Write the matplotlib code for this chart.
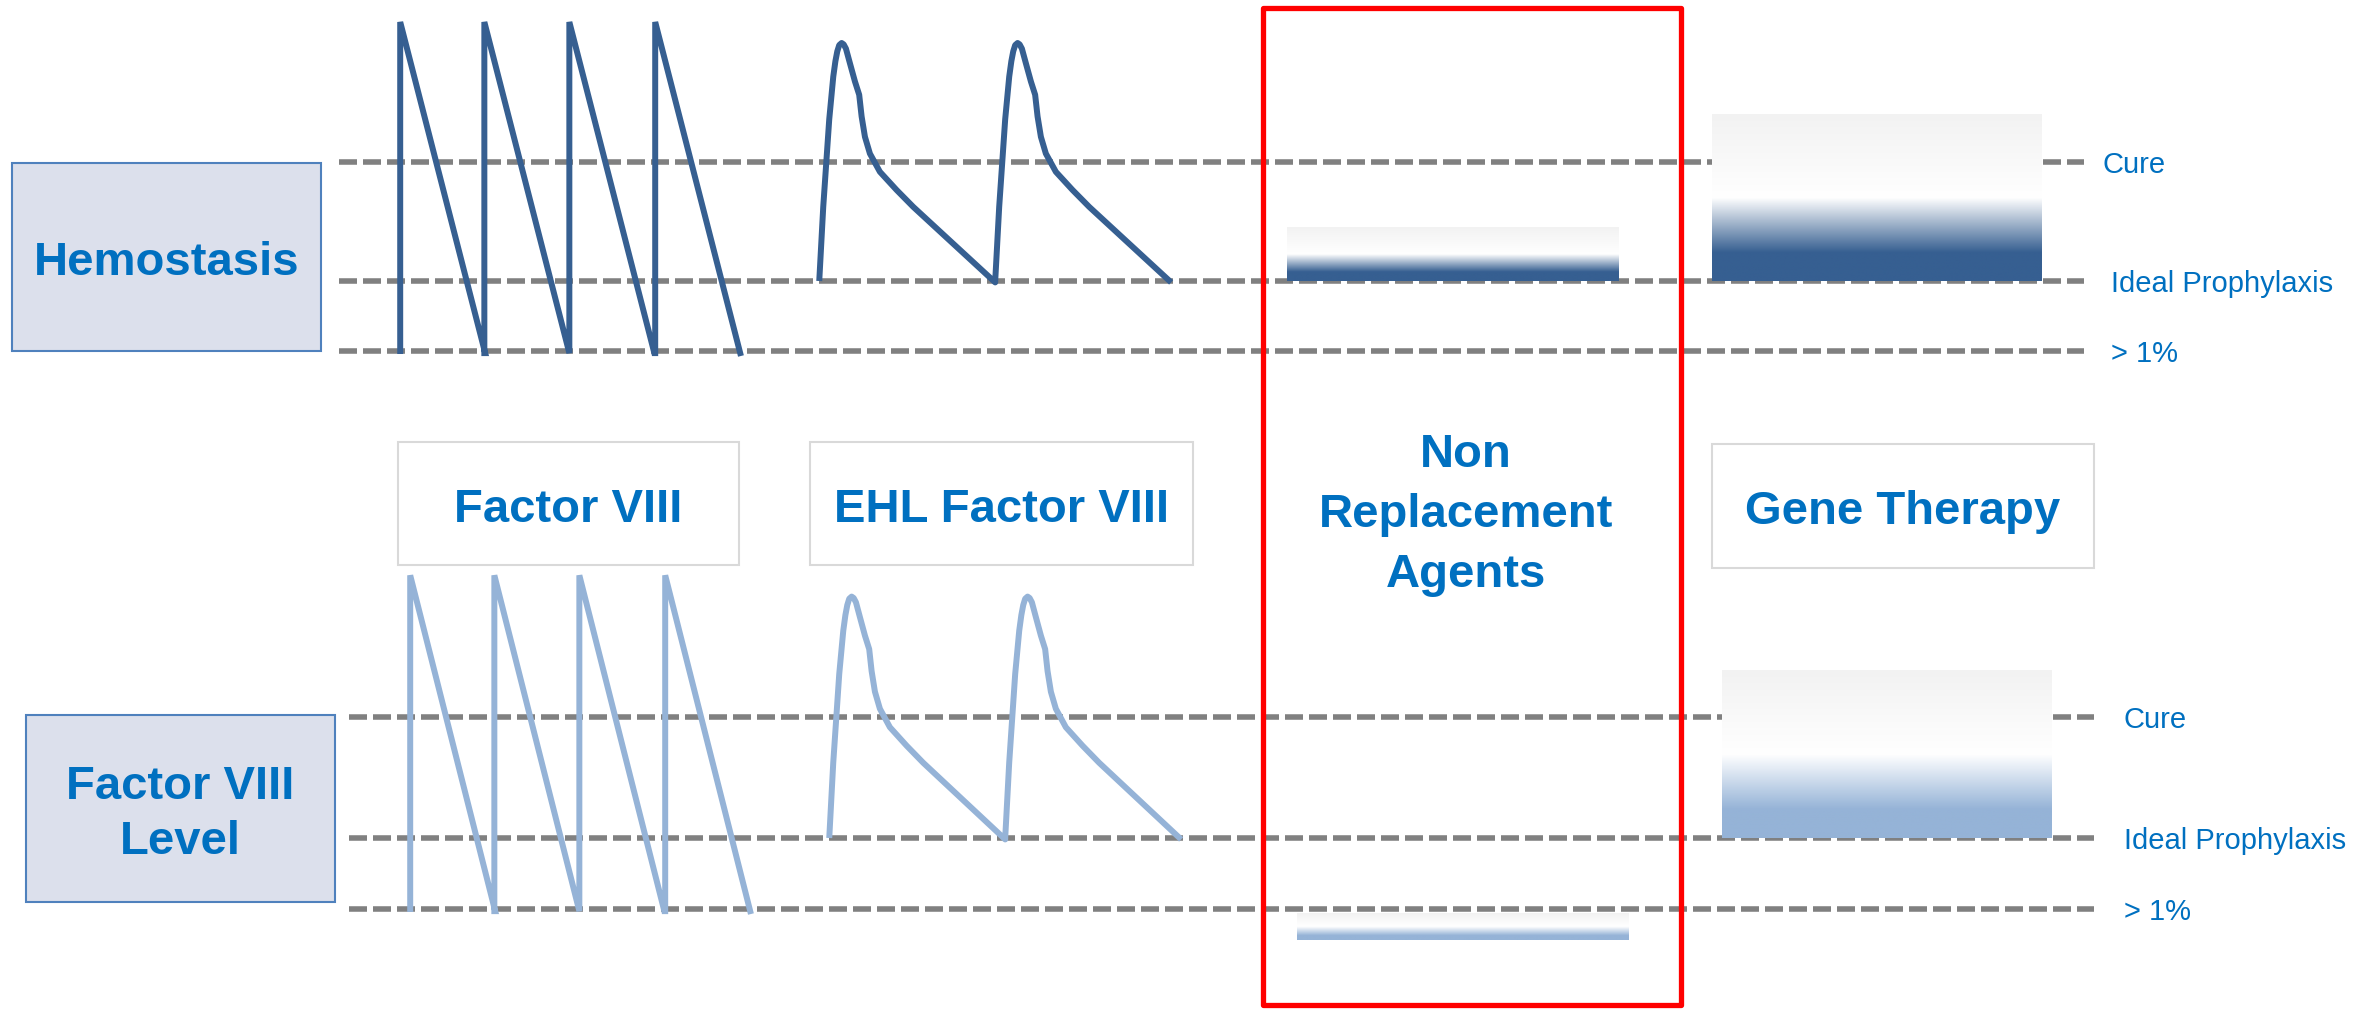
import matplotlib
matplotlib.use("Agg")
import matplotlib.pyplot as plt
import numpy as np
from matplotlib.colors import LinearSegmentedColormap
from matplotlib.patches import Rectangle
from matplotlib.transforms import Affine2D

plt.rcParams["font.family"] = ["Liberation Sans", "DejaVu Sans"]

# factor level scale: 0 = ">1%" trough, 1 = ideal prophylaxis, 2.7 = cure
level_names = ["Cure", "Ideal Prophylaxis", "> 1%"]
level_values = [2.7, 1.0, 0.0]

# time runs in days from the start of the dashed guides
time_span = [0.0, 41.05]

# standard factor VIII: bolus every 2 days, straight decay back to the trough
fviii_doses = [1.44, 3.42, 5.42, 7.44]
fviii_interval = 2.0
fviii_peak = 4.7
fviii_trough = -0.03

# extended half-life factor VIII, one infusion (days after dose, level)
ehl_doses = [11.3, 15.44]
ehl_days = [0.0, 0.094, 0.235, 0.33, 0.38, 0.424, 0.47, 0.527, 0.575, 0.628,
            0.722, 0.84, 0.94, 0.997, 1.075, 1.192, 1.427, 1.82, 2.21, 2.996, 4.14]
ehl_level = [1.0, 2.06, 3.31, 3.92, 4.14, 4.28, 4.37, 4.40, 4.38, 4.32,
             4.11, 3.85, 3.66, 3.35, 3.06, 2.82, 2.56, 2.30, 2.06, 1.62, 0.98]

# steady levels for non replacement agents and gene therapy (low, high)
nonrepl_days = [22.3, 30.1]
gene_days = [32.3, 40.05]
hemo_nonrepl_levels = [1.0, 1.77]
hemo_gene_levels = [1.0, 3.38]
fviii_nonrepl_levels = [-0.44, -0.06]
fviii_gene_levels = [1.0, 3.36]

row_labels = ["Hemostasis", "Factor VIII\nLevel"]
therapy_labels = ["Factor VIII", "EHL Factor VIII", "Non\nReplacement\nAgents", "Gene Therapy"]

TEXT_BLUE = "#0070C0"
DARK_BLUE = "#365F91"
LIGHT_BLUE = "#95B3D7"
PX_PER_DAY = 42.5
CURVE_LW = 4.3
GUIDE_LW = 4.0

fig = plt.figure(figsize=(23.74, 10.09), dpi=100)
ax = fig.add_axes([0, 0, 1, 1])


def panel(x0, y0, px_per_level):
    # days / level units -> pixel coordinates of the canvas axes
    return Affine2D().scale(PX_PER_DAY, -px_per_level).translate(x0, y0)


def gradient_bar(tr, days, levels, color):
    cmap = LinearSegmentedColormap.from_list(
        "bar", [(0, color), (0.17, color), (0.5, "white"), (1, "#F2F2F2")])
    (l, b), (r, t) = tr.transform([(days[0], levels[0]), (days[1], levels[1])])
    grad = np.linspace(0, 1, 256).reshape(-1, 1)
    ax.imshow(grad, cmap=cmap, extent=(l, r, b, t), origin="lower",
              aspect="auto", interpolation="bilinear", zorder=2)


def draw_panel(tr, color, nonrepl_levels, gene_levels, label_x):
    data_tr = tr + ax.transData
    for name, lvl, lx in zip(level_names, level_values, label_x):
        ax.plot(time_span, [lvl, lvl], transform=data_tr, color="#808080",
                lw=GUIDE_LW, dashes=(3.24, 1.08), zorder=1)
        ax.text(lx, lvl - 0.04, name, transform=data_tr, color=TEXT_BLUE,
                fontsize=21, ha="left", va="center")

    # factor VIII sawtooth
    xs, ys = [], []
    for i, d in enumerate(fviii_doses):
        xs += [d, d, d + fviii_interval]
        ys += [0.0 if i == 0 else fviii_trough, fviii_peak, fviii_trough]
    ax.plot(xs, ys, transform=data_tr, color=color, lw=CURVE_LW,
            solid_joinstyle="miter", zorder=3)

    # EHL infusions
    xs, ys = [], []
    for d in ehl_doses:
        xs += [d + t for t in ehl_days]
        ys += ehl_level
    ax.plot(xs, ys, transform=data_tr, color=color, lw=CURVE_LW,
            solid_joinstyle="round", solid_capstyle="butt", zorder=3)

    gradient_bar(tr, nonrepl_days, nonrepl_levels, color)
    gradient_bar(tr, gene_days, gene_levels, color)


top = panel(339, 351, 70)
bottom = panel(349, 909, 71)
draw_panel(top, DARK_BLUE, hemo_nonrepl_levels, hemo_gene_levels, [41.5, 41.7, 41.7])
draw_panel(bottom, LIGHT_BLUE, fviii_nonrepl_levels, fviii_gene_levels, [41.76, 41.76, 41.76])

# row headers
for (x, y, w, h), label in zip([(12, 163, 309, 188), (26, 715, 309, 187)], row_labels):
    ax.add_patch(Rectangle((x, y), w, h, fc="#DCE0EC", ec="#4F81BD", lw=1.5, zorder=2))
    ax.text(x + w / 2, y + h / 2 + 6, label, color=TEXT_BLUE, fontsize=34,
            fontweight="bold", ha="center", va="center", linespacing=1.31, zorder=5)

# therapy headers
header_boxes = [(398, 442, 341, 123), (810, 442, 383, 123), None, (1712, 444, 382, 124)]
for box, label in zip(header_boxes, therapy_labels):
    if box is None:
        ax.text(1466, 515, label, color=TEXT_BLUE, fontsize=34, fontweight="bold",
                ha="center", va="center", linespacing=1.48, zorder=5)
        continue
    x, y, w, h = box
    ax.add_patch(Rectangle((x, y), w, h, fc="white", ec="#D9D9D9", lw=1.5, zorder=2))
    ax.text(x + w / 2, y + h / 2 + 6, label, color=TEXT_BLUE, fontsize=34,
            fontweight="bold", ha="center", va="center", zorder=5)

# highlight frame around non replacement agents
ax.add_patch(Rectangle((1263, 8), 418, 997, fill=False, ec="#FF0000", lw=3.8,
                       joinstyle="round", zorder=4))

ax.set_xlim(0, 2374)
ax.set_ylim(1009, 0)
ax.axis("off")

fig.savefig("out.png", dpi=100, facecolor="white")
